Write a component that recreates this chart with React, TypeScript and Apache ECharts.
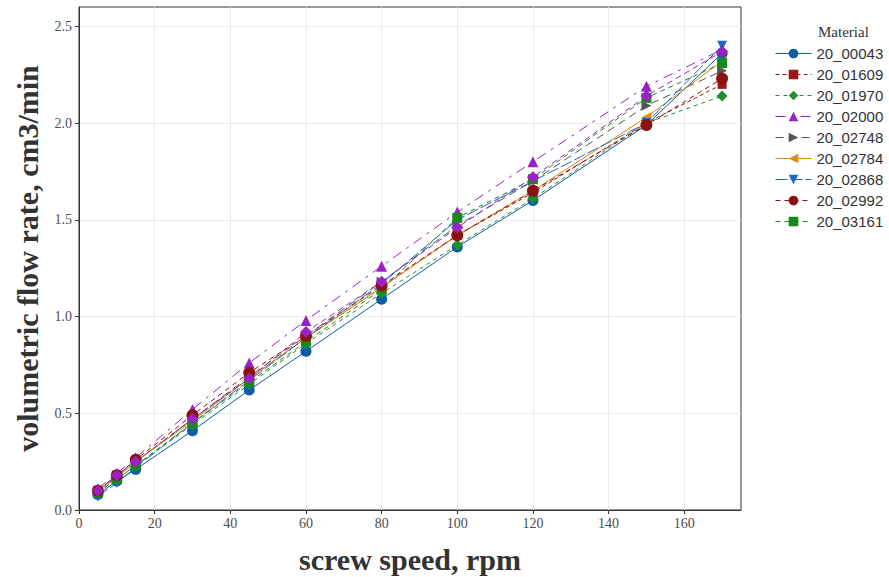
import React, { useEffect, useRef } from "react";
import * as echarts from "echarts";

const speeds = [5, 10, 15, 30, 45, 60, 80, 100, 120, 150, 170];
const xTicks = [0, 20, 40, 60, 80, 100, 120, 140, 160];
const yTicks = [0, 0.5, 1.0, 1.5, 2.0, 2.5];

const m00043 = [0.08, 0.15, 0.21, 0.41, 0.62, 0.82, 1.09, 1.36, 1.60, 1.99, 2.36];
const m01609 = [0.10, 0.17, 0.25, 0.47, 0.68, 0.89, 1.15, 1.42, 1.64, 2.00, 2.20];
const m01970 = [0.09, 0.16, 0.23, 0.44, 0.65, 0.86, 1.12, 1.37, 1.61, 2.00, 2.14];
const m02000 = [0.11, 0.19, 0.27, 0.52, 0.76, 0.98, 1.26, 1.54, 1.80, 2.19, 2.38];
const m02748 = [0.10, 0.18, 0.25, 0.47, 0.69, 0.90, 1.18, 1.47, 1.70, 2.09, 2.27];
const m02784 = [0.10, 0.17, 0.25, 0.46, 0.68, 0.89, 1.15, 1.42, 1.65, 2.03, 2.32];
const m02868 = [0.07, 0.14, 0.22, 0.45, 0.67, 0.89, 1.17, 1.50, 1.70, 2.00, 2.40];
const m02992 = [0.10, 0.18, 0.26, 0.49, 0.71, 0.90, 1.16, 1.42, 1.65, 1.99, 2.23];
const m03161 = [0.09, 0.16, 0.23, 0.45, 0.66, 0.87, 1.14, 1.51, 1.71, 2.13, 2.31];
const mExtra = [0.10, 0.18, 0.25, 0.47, 0.68, 0.92, 1.18, 1.46, 1.72, 2.14, 2.37];

const RIGHT_TRI = "path://M0,0 L10,5 L0,10 Z";
const LEFT_TRI = "path://M10,0 L0,5 L10,10 Z";
const DOWN_TRI = "path://M0,0 L10,0 L5,10 Z";

const seriesDefs = [
  { name: "20_00043", data: m00043, color: "#0d5ca8", symbol: "circle", size: 11, dash: "solid" as any },
  { name: "20_01609", data: m01609, color: "#9e1515", symbol: "rect", size: 9, dash: [4, 3] },
  { name: "20_01970", data: m01970, color: "#22902a", symbol: "diamond", size: 11, dash: [4, 4] },
  { name: "20_02000", data: m02000, color: "#9a22c4", symbol: "triangle", size: 11, dash: [10, 6, 3, 6] },
  { name: "20_02748", data: m02748, color: "#555555", symbol: RIGHT_TRI, size: 10, dash: [8, 5] },
  { name: "20_02784", data: m02784, color: "#e08a0a", symbol: LEFT_TRI, size: 10, dash: "solid" },
  { name: "20_02868", data: m02868, color: "#1b6cc2", symbol: DOWN_TRI, size: 10, dash: [12, 3] },
  { name: "20_03161", data: m03161, color: "#15891a", symbol: "rect", size: 10, dash: [5, 4] },
  { name: "20_02992", data: m02992, color: "#8c1212", symbol: "circle", size: 12, dash: [5, 4] },
  { name: "extra", data: mExtra, color: "#9a22c4", symbol: "diamond", size: 12, dash: [6, 4] },
];

const legendNames = [
  "20_00043", "20_01609", "20_01970", "20_02000", "20_02748",
  "20_02784", "20_02868", "20_02992", "20_03161",
];

export default function App() {
  const ref = useRef<HTMLDivElement>(null);
  useEffect(() => {
    if (!ref.current) return;
    const chart = echarts.init(ref.current, undefined, { renderer: "svg" });
    const serif = "'Liberation Serif', 'Times New Roman', serif";
    const sans = "'Liberation Sans', Arial, sans-serif";
    chart.setOption({
      animation: false,
      backgroundColor: "#ffffff",
      title: {
        text: "Material",
        left: 813,
        top: 19,
        textStyle: { fontFamily: serif, fontSize: 15, fontWeight: "normal", color: "#333333" },
      },
      legend: {
        data: legendNames,
        orient: "vertical",
        left: 770,
        top: 41,
        itemWidth: 36,
        itemHeight: 12,
        itemGap: 6,
        lineStyle: { width: 1 },
        textStyle: { fontFamily: sans, fontSize: 15, color: "#333333" },
      },
      grid: {
        left: 79,
        right: 148,
        top: 7,
        bottom: 67,
        outerBoundsMode: "none",
        show: true,
        borderColor: "#333333",
        borderWidth: 1,
        backgroundColor: "transparent",
      },
      xAxis: {
        type: "value",
        min: 0,
        max: 175,
        name: "screw speed, rpm",
        nameLocation: "middle",
        nameGap: 34,
        nameTextStyle: { fontFamily: serif, fontSize: 30, fontWeight: "bold", color: "#333333" },
        axisLine: { show: true, lineStyle: { color: "#333333" } },
        axisTick: { show: true, length: 4, lineStyle: { color: "#333333" }, customValues: xTicks },
        axisLabel: { fontFamily: serif, fontSize: 14, color: "#4d4d4d", margin: 6, customValues: xTicks },
        splitLine: { show: true, lineStyle: { color: "#ebebeb" } },
      },
      yAxis: {
        type: "value",
        min: 0,
        max: 2.6,
        name: "volumetric flow rate, cm3/min",
        nameLocation: "middle",
        nameGap: 37,
        nameTextStyle: { fontFamily: serif, fontSize: 30, fontWeight: "bold", color: "#333333" },
        axisLine: { show: true, lineStyle: { color: "#333333" } },
        axisTick: { show: true, length: 4, lineStyle: { color: "#333333" }, customValues: yTicks },
        axisLabel: {
          fontFamily: serif,
          fontSize: 14,
          color: "#4d4d4d",
          margin: 7,
          customValues: yTicks,
          formatter: (v: number) => v.toFixed(1),
        },
        splitLine: { show: true, lineStyle: { color: "#ebebeb" } },
      },
      series: seriesDefs.map((s) => ({
        name: s.name,
        type: "line",
        data: speeds.map((x, i) => [x, s.data[i]]),
        symbol: s.symbol,
        symbolSize: s.size,
        showAllSymbol: true,
        itemStyle: { color: s.color },
        lineStyle: { color: s.color, width: 1, type: s.dash },
      })),
    });
    return () => chart.dispose();
  }, []);
  return (
    <div
      ref={ref}
      style={{ position: "fixed", left: 0, top: 0, width: 889, height: 577, background: "#fff" }}
    />
  );
}
